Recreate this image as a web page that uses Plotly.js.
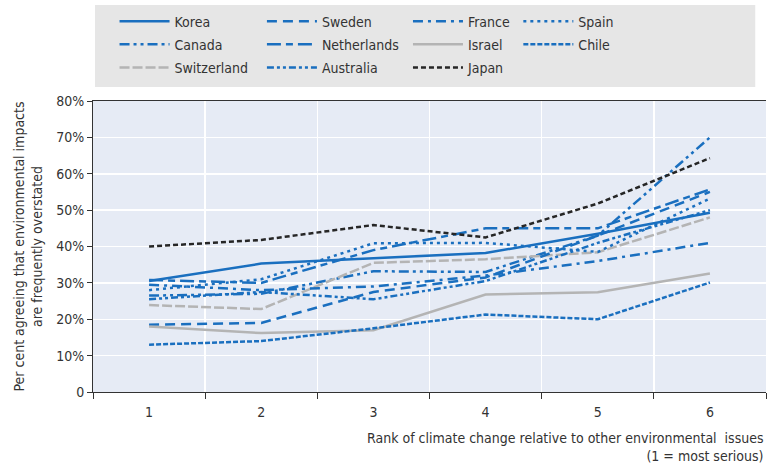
<!DOCTYPE html>
<html>
<head>
<meta charset="utf-8">
<script src="https://cdn.plot.ly/plotly-3.0.1.min.js"></script>
<style>html,body{margin:0;padding:0;background:#fff;}#chart{width:769px;height:465px;}</style>
</head>
<body>
<div id="chart"></div>
<script>
const ranks = ['1', '2', '3', '4', '5', '6'];
const korea       = [0.305, 0.353, 0.368, 0.382, 0.435, 0.493];
const sweden      = [0.185, 0.190, 0.275, 0.315, 0.430, 0.550];
const france      = [0.295, 0.280, 0.290, 0.320, 0.360, 0.410];
const spain       = [0.280, 0.310, 0.409, 0.410, 0.385, 0.532];
const canada      = [0.265, 0.270, 0.332, 0.330, 0.430, 0.700];
const netherlands = [0.308, 0.300, 0.390, 0.450, 0.450, 0.557];
const israel      = [0.180, 0.162, 0.170, 0.268, 0.274, 0.326];
const chile       = [0.130, 0.140, 0.175, 0.213, 0.200, 0.301];
const switzerland = [0.239, 0.228, 0.355, 0.365, 0.384, 0.480];
const australia   = [0.255, 0.275, 0.255, 0.305, 0.410, 0.500];
const japan       = [0.400, 0.418, 0.459, 0.425, 0.518, 0.643];
const yTickVals = [0, 0.1, 0.2, 0.3, 0.4, 0.5, 0.6, 0.7, 0.8];
const yTickText = ['0', '10%', '20%', '30%', '40%', '50%', '60%', '70%', '80%'];

const BLUE = '#1a6fbf', GREY = '#b4b4b4', BLACK = '#262626';
const FONT = 'Liberation Sans Narrow, DejaVu Sans Condensed, Arial Narrow, sans-serif';

function tr(name, y, color, dash, legend, w) {
  return {x: ranks, y: y, name: name, type: 'scatter', mode: 'lines',
    line: {color: color, width: w || 2.5, dash: dash},
    legend: legend, legendgroup: name, hoverinfo: 'skip'};
}
const data = [
  tr('Korea', korea, BLUE, 'solid', 'legend'),
  tr('Canada', canada, BLUE, '10px,4px,3px,4px,3px,4px', 'legend'),
  tr('Switzerland', switzerland, GREY, '10px,3px', 'legend'),
  tr('Sweden', sweden, BLUE, '10px,6px', 'legend2'),
  tr('Netherlands', netherlands, BLUE, '14px,5px,7px,5px', 'legend2'),
  tr('Australia', australia, BLUE, '7px,3px,3px,3px,3px,3px', 'legend2'),
  tr('France', france, BLUE, '10px,5px,3px,5px', 'legend3'),
  tr('Israel', israel, GREY, 'solid', 'legend3'),
  tr('Japan', japan, BLACK, '5px,3px', 'legend3'),
  tr('Spain', spain, BLUE, '3px,4px', 'legend4'),
  tr('Chile', chile, BLUE, '5px,2px', 'legend4')
];

function leg(x) {
  return {x: x, y: 1.328, xanchor: 'left', yanchor: 'top', orientation: 'v',
    bgcolor: 'rgba(0,0,0,0)', borderwidth: 0, itemwidth: 50, tracegroupgap: 2,
    font: {family: FONT, size: 14, color: '#333'}, itemclick: false, itemdoubleclick: false};
}

const layout = {
  width: 769, height: 465,
  margin: {l: 93, r: 3, t: 101, b: 73},
  paper_bgcolor: '#ffffff', plot_bgcolor: '#e6ebf5',
  font: {family: FONT, size: 14, color: '#333'},
  showlegend: true,
  legend: leg(0.032), legend2: leg(0.251), legend3: leg(0.468), legend4: leg(0.632),
  xaxis: {type: 'category', range: [-0.5, 5.5], tickson: 'boundaries', ticks: 'outside', ticklen: 6, tickcolor: '#333',
    ticklabelstandoff: 7,
    showgrid: true, gridcolor: '#ffffff', gridwidth: 1.5, showline: true, linecolor: '#333', linewidth: 1,
    mirror: true, zeroline: false, tickfont: {family: FONT, size: 14, color: '#333'}, fixedrange: true},
  yaxis: {range: [0, 0.8], tickvals: yTickVals, ticktext: yTickText, ticks: 'outside', ticklen: 5,
    tickcolor: '#333', showgrid: true, gridcolor: '#ffffff', gridwidth: 1.5, showline: true,
    linecolor: '#333', linewidth: 1, zeroline: false, tickfont: {family: FONT, size: 14, color: '#333'},
    title: {text: 'Per cent agreeing that environmental impacts<br>are frequently overstated',
      font: {family: FONT, size: 14, color: '#333'}, standoff: 10}, fixedrange: true},
  shapes: [{type: 'rect', xref: 'paper', yref: 'paper', x0: 0.003, x1: 0.984, y0: 1.048, y1: 1.33,
    fillcolor: '#e6e6e6', line: {width: 0}, layer: 'below'}],
  annotations: [{xref: 'paper', yref: 'paper', x: 1, y: -0.125, xanchor: 'right', yanchor: 'top',
    align: 'right', showarrow: false,
    text: 'Rank of climate change relative to other environmental  issues<br>(1 = most serious)',
    font: {family: FONT, size: 14, color: '#333'}}]
};
Plotly.newPlot('chart', data, layout, {displayModeBar: false, staticPlot: true});
</script>
</body>
</html>
